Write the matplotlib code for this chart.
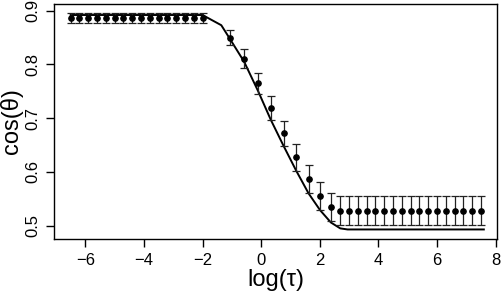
#!/usr/bin/env python3
"""Recreate cos(theta) vs log(tau) plot with error bars and model curve."""

import matplotlib
matplotlib.use("Agg")
import matplotlib.pyplot as plt

plt.rcParams["font.family"] = ["Liberation Sans", "DejaVu Sans"]

# simulated points (mean +/- error)
log_tau = [-6.5, -6.2, -5.9, -5.6, -5.3, -5.0, -4.7, -4.4, -4.1, -3.8, -3.5, -3.2,
           -2.9, -2.6, -2.3, -2.0,
           -1.07, -0.58, -0.10, 0.33, 0.77, 1.20, 1.62, 2.01, 2.38,
           2.7, 3.0, 3.3, 3.6, 3.9, 4.2, 4.5, 4.8, 5.1, 5.4, 5.7, 6.0, 6.3, 6.6,
           6.9, 7.2, 7.5]
cos_mean = [0.886] * 16 + [0.850, 0.811, 0.765, 0.719, 0.672, 0.627, 0.587, 0.555,
                           0.535] + [0.528] * 17
cos_err = [0.009] * 16 + [0.0135, 0.017, 0.020, 0.022, 0.0235, 0.025, 0.026, 0.0255,
                          0.026] + [0.027] * 17

# theoretical curve
curve_x = [-6.5, -2.0, -1.36, -1.07, -0.58, -0.10, 0.33, 0.77, 1.20, 1.62, 2.01,
           2.38, 2.70, 2.95, 7.6]
curve_y = [0.892, 0.892, 0.873, 0.848, 0.805, 0.750, 0.697, 0.648, 0.602, 0.560,
           0.529, 0.506, 0.495, 0.493, 0.493]

fig = plt.figure(figsize=(5.04, 3.02), dpi=100)
ax = fig.add_axes([0.1077, 0.2096, 0.879, 0.7772])

ax.plot(curve_x, curve_y, color="black", lw=1.4, zorder=2)
ax.errorbar(log_tau, cos_mean, yerr=cos_err, fmt="o", color="black", ms=3.8,
            ecolor="#222222", elinewidth=0.9, capsize=2.6, capthick=0.9, zorder=3)

ax.set_xlim(-7.06, 8.06)
ax.set_ylim(0.4758, 0.9125)
ax.set_xticks([-6, -4, -2, 0, 2, 4, 6, 8])
ax.set_xticklabels(["\u22126", "\u22124", "\u22122", "0", "2", "4", "6", "8"])
ax.set_yticks([0.5, 0.6, 0.7, 0.8, 0.9])
ax.set_yticklabels(["0.5", "0.6", "0.7", "0.8", "0.9"], rotation=90, va="center")

ax.tick_params(axis="both", labelsize=12, length=6, width=1, direction="out", pad=4)
for s in ax.spines.values():
    s.set_linewidth(1)
    s.set_color("black")

ax.set_xlabel("log(\u03c4)", fontsize=17, labelpad=1)
ax.set_ylabel("cos(\u03b8)", fontsize=17, labelpad=2)

fig.savefig("out.png", dpi=100)
plt.close(fig)
